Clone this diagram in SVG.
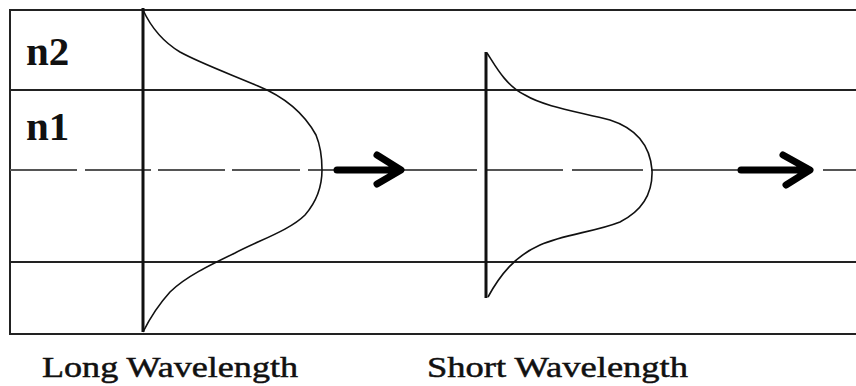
<svg xmlns="http://www.w3.org/2000/svg" width="856" height="386" viewBox="0 0 856 386">
<style>
.frame{stroke:#222;stroke-width:2;fill:none}
.axis{stroke:#111;stroke-width:3;fill:none}
.dash{stroke:#555;stroke-width:2;fill:none}
.curve{stroke:#111;stroke-width:1.6;fill:none}
.arrow{stroke:#000;stroke-width:7;fill:none;stroke-linecap:round;stroke-linejoin:round}
.lbl{font-family:"Liberation Serif",serif;font-weight:bold;fill:#111}
.cap{font-family:"Liberation Serif",serif;fill:#111;stroke:#111;stroke-width:0.5}
</style>
<rect width="856" height="386" fill="#fff"/>
<g id="frame">
<path class="frame" d="M856,10 H10 V334 H856"/>
<line class="frame" x1="10" y1="90" x2="856" y2="90"/>
<line class="frame" x1="10" y1="262" x2="856" y2="262"/>
</g>
<g id="connectors">
<path class="dash" d="M10,170 H77 M85,170 H151 M158,170 H225 M232,170 H300 M308,170 H335 M403,170 H477 M487,170 H563 M572,170 H643 M651,170 H738 M823,170 H856"/>
<path class="arrow" d="M337,170 H399 M377,155 L401,170 L377,184"/>
<path class="arrow" d="M741,170 H809 M783,155 L810,170 L786,185"/>
</g>
<g id="long-wave">
<line class="axis" x1="143" y1="8" x2="143" y2="332"/>
<path class="curve" d="M143,10 C150,25 160,40 180,52 C200,63 230,74 258,86 C285,97 305,115 316,135 C321,147 322,160 322,170 C322,185 318,200 305,215 C290,230 260,240 235,253 C210,265 185,277 170,292 C160,303 150,318 143,332"/>
</g>
<g id="short-wave">
<line class="axis" x1="486" y1="52" x2="486" y2="298"/>
<path class="curve" d="M487,53 C495,65 505,85 525,95 C545,107 580,112 610,120 C635,128 650,145 652,170 C653,195 640,212 620,222 C595,232 565,234 540,245 C515,256 500,275 488,297"/>
</g>
<g id="labels">
<text class="lbl" x="26" y="65" font-size="41">n2</text>
<text class="lbl" x="26" y="140" font-size="41">n1</text>
<text class="cap" x="42" y="377" font-size="30" textLength="256" lengthAdjust="spacingAndGlyphs">Long Wavelength</text>
<text class="cap" x="427" y="377" font-size="30" textLength="261" lengthAdjust="spacingAndGlyphs">Short Wavelength</text>
</g>
</svg>
